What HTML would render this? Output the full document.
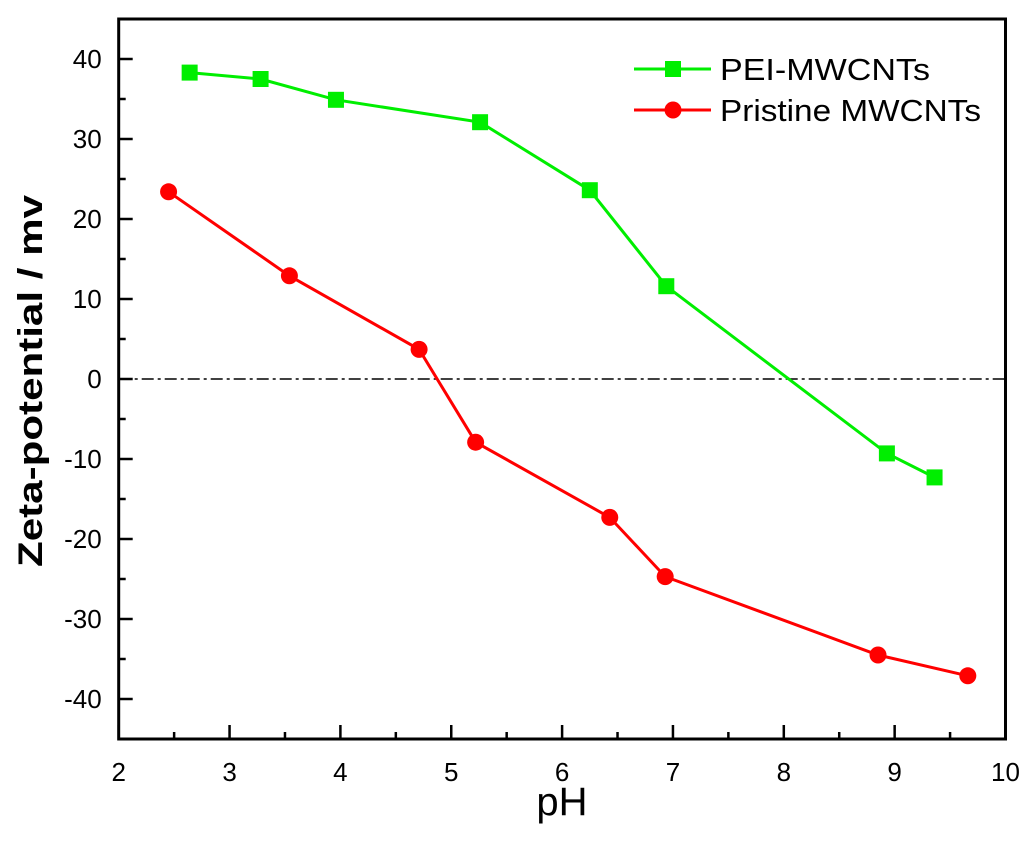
<!DOCTYPE html>
<html><head><meta charset="utf-8"><style>
body{margin:0;background:#fff}
svg{display:block;font-family:"Liberation Sans",Arial,sans-serif}
</style></head><body>
<svg id="chart" width="1024" height="847" viewBox="0 0 1024 847" xmlns="http://www.w3.org/2000/svg">
<g id="axes"></g>
<g id="series"></g>
</svg>
<script>
const xTicks=[2,3,4,5,6,7,8,9,10];
const yTicks=[-40,-30,-20,-10,0,10,20,30,40];
const peiX=[2.64,3.28,3.96,5.26,6.25,6.94,8.93,9.36];
const peiY=[38.3,37.5,34.9,32.1,23.6,11.6,-9.3,-12.3];
const priX=[2.45,3.54,4.71,5.22,6.43,6.93,8.85,9.66];
const priY=[23.4,12.9,3.7,-7.9,-17.3,-24.7,-34.5,-37.1];
const NS='http://www.w3.org/2000/svg';
const L=118.7,R=1005.5,T=19,B=739;
const X=v=>L+(v-2)/8*(R-L);
const Y=v=>T+(45-v)/90*(B-T);
const ax=document.getElementById('axes'),se=document.getElementById('series');
function mk(tag,at,p){const e=document.createElementNS(NS,tag);for(const k in at)e.setAttribute(k,at[k]);p.appendChild(e);return e;}
let fr=mk('rect',{x:L,y:T,width:R-L,height:B-T,fill:'none',stroke:'#000','stroke-width':3},ax);


xTicks.forEach((v,i)=>{
  let t=mk('line',{x1:X(v),x2:X(v),y1:B,y2:B-14,stroke:'#000','stroke-width':2.5},ax);
  
  
  if(i<xTicks.length-1){let m=mk('line',{x1:X(v+0.5),x2:X(v+0.5),y1:B,y2:B-7,stroke:'#000','stroke-width':2.5},ax);
  
  }
  let tx=mk('text',{x:X(v),y:B+42,'text-anchor':'middle','font-size':26},ax);tx.textContent=v;
  
  
});
yTicks.forEach(v=>{
  let t=mk('line',{x1:L,x2:L+14,y1:Y(v),y2:Y(v),stroke:'#000','stroke-width':2.5},ax);
  
  
  [v-5,v+5].forEach(m=>{if(v+5===m||v===-40){let mm=mk('line',{x1:L,x2:L+7,y1:Y(m),y2:Y(m),stroke:'#000','stroke-width':2.5},ax);
  
  }});
  let tx=mk('text',{x:L-17,y:Y(v)+9,'text-anchor':'end','font-size':26},ax);tx.textContent=v;
  
  
});
let zl=mk('line',{x1:L,x2:R,y1:Y(0),y2:Y(0),stroke:'#000','stroke-width':1.5,'stroke-dasharray':'12,4,3,4'},ax);


let xt=mk('text',{x:562,y:815,'text-anchor':'middle','font-size':40},ax);xt.textContent='pH';


let yt=mk('text',{x:0,y:0,'text-anchor':'middle','font-size':34,'font-weight':'bold',textLength:372,lengthAdjust:'spacingAndGlyphs',transform:'translate(42,381) rotate(-90)'},ax);yt.textContent='Zeta-potential / mv';


function series(xs,ys,col,shape,name){
  const g=mk('g',{},se);
  
  
  mk('polyline',{points:xs.map((x,i)=>X(x)+','+Y(ys[i])).join(' '),fill:'none',stroke:col,'stroke-width':3},g);
  xs.forEach((x,i)=>{let m=shape==='sq'?mk('rect',{x:X(x)-8,y:Y(ys[i])-8,width:16,height:16,fill:col},g):mk('circle',{cx:X(x),cy:Y(ys[i]),r:8.5,fill:col},g);
  
  });
}
series(peiX,peiY,'#00ee00','sq','pei-mwcnts-series');
series(priX,priY,'#ff0000','ci','pristine-mwcnts-series');
function legend(y,col,shape,label,len,name){
  const g=mk('g',{},ax);
  
  
  mk('line',{x1:634,x2:711,y1:y,y2:y,stroke:col,'stroke-width':3},g);
  if(shape==='sq')mk('rect',{x:665,y:y-8,width:16,height:16,fill:col},g);else mk('circle',{cx:673,cy:y,r:8.5,fill:col},g);
  let t=mk('text',{x:720,y:y+11,'font-size':31,textLength:len,lengthAdjust:'spacingAndGlyphs'},g);t.textContent=label;
}
legend(69,'#00ee00','sq','PEI-MWCNTs',210,'legend-entry-pei');
legend(110,'#ff0000','ci','Pristine MWCNTs',261,'legend-entry-pristine');
</script>
</body></html>
